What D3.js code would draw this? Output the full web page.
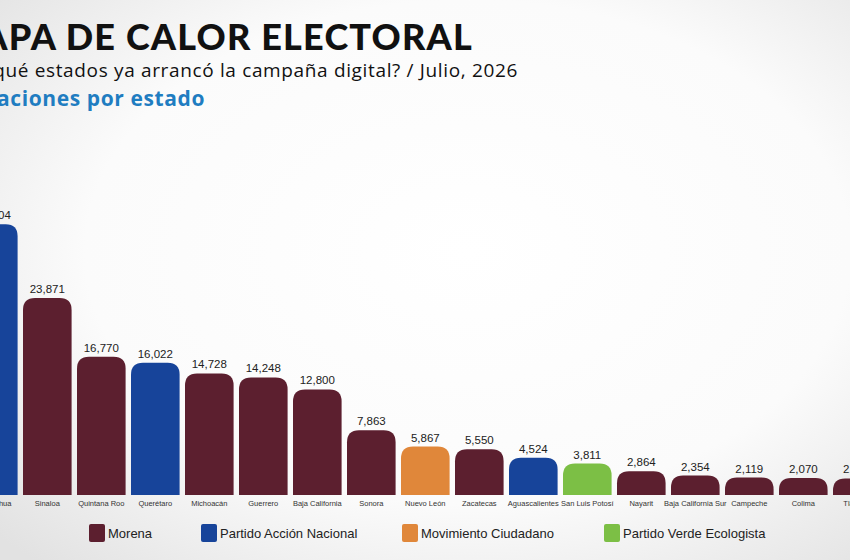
<!DOCTYPE html>
<html>
<head>
<meta charset="utf-8">
<script src="https://cdn.jsdelivr.net/npm/d3@7"></script>
<style>
  body { margin: 0; overflow: hidden; }
  svg { display: block; }
</style>
</head>
<body>
<div id="chart"></div>
<script>
// datos
var estados = ["Chihuahua", "Sinaloa", "Quintana Roo", "Querétaro", "Michoacán", "Guerrero",
  "Baja California", "Sonora", "Nuevo León", "Zacatecas", "Aguascalientes", "San Luis Potosí",
  "Nayarit", "Baja California Sur", "Campeche", "Colima", "Tlaxcala"];
var menciones = [32804, 23871, 16770, 16022, 14728, 14248, 12800, 7863, 5867, 5550, 4524, 3811,
  2864, 2354, 2119, 2070, 2010];
var partido = ["PAN", "Morena", "Morena", "PAN", "Morena", "Morena", "Morena", "Morena", "MC",
  "Morena", "PAN", "PVEM", "Morena", "Morena", "Morena", "Morena", "Morena"];
var partidos = ["Morena", "PAN", "MC", "PVEM"];
var nombresPartido = ["Morena", "Partido Acción Nacional", "Movimiento Ciudadano", "Partido Verde Ecologista"];
var colores = ["#5c1f2f", "#17449a", "#e0873a", "#7cbf45"];

var width = 850, height = 560;
var baseline = 495;

var svg = d3.select("#chart").append("svg")
    .attr("width", width)
    .attr("height", height);

var defs = svg.append("defs");
var grad = defs.append("radialGradient")
    .attr("id", "fondo")
    .attr("cx", "55%").attr("cy", "45%").attr("r", "75%");
grad.append("stop").attr("offset", "0%").attr("stop-color", "#ffffff");
grad.append("stop").attr("offset", "60%").attr("stop-color", "#fbfbfb");
grad.append("stop").attr("offset", "100%").attr("stop-color", "#e2e2e2");

svg.append("rect")
    .attr("width", width).attr("height", height)
    .attr("fill", "url(#fondo)");

// the chart is cropped on both sides, so the band range runs past the edges
var x = d3.scaleBand()
    .domain(estados)
    .range([-33.7, -33.7 + 54 * estados.length])
    .paddingInner(0.1)
    .paddingOuter(0.05);

var y = d3.scaleLinear()
    .domain([0, 24000])
    .range([baseline, baseline - 198]);

var color = d3.scaleOrdinal().domain(partidos).range(colores);

function barPath(x0, w, y0, y1) {
  var r = Math.min(12, y1 - y0, w / 2);
  return "M" + x0 + "," + y1 +
    "V" + (y0 + r) +
    "Q" + x0 + "," + y0 + " " + (x0 + r) + "," + y0 +
    "H" + (x0 + w - r) +
    "Q" + (x0 + w) + "," + y0 + " " + (x0 + w) + "," + (y0 + r) +
    "V" + y1 + "Z";
}

var data = estados.map(function(d, i) {
  return { estado: d, valor: menciones[i], partido: partido[i] };
});

svg.selectAll("path.bar")
  .data(data)
  .enter()
  .append("path")
  .attr("class", "bar")
  .attr("d", function(d) {
    return barPath(x(d.estado), x.bandwidth(), y(d.valor), baseline);
  })
  .attr("fill", function(d) { return color(d.partido); });

svg.selectAll("text.valor")
  .data(data)
  .enter()
  .append("text")
  .attr("class", "valor")
  .attr("x", function(d) { return x(d.estado) + x.bandwidth() / 2; })
  .attr("y", function(d) { return y(d.valor) - 5; })
  .attr("text-anchor", "middle")
  .style("font-family", "Liberation Sans, Arial, sans-serif")
  .style("font-size", "11.5px")
  .style("fill", "#222")
  .text(function(d) { return d3.format(",")(d.valor); });

svg.selectAll("text.estado")
  .data(data)
  .enter()
  .append("text")
  .attr("class", "estado")
  .attr("x", function(d) { return x(d.estado) + x.bandwidth() / 2; })
  .attr("y", baseline + 11)
  .attr("text-anchor", "middle")
  .style("font-family", "Liberation Sans, Arial, sans-serif")
  .style("font-size", "7.5px")
  .style("fill", "#333")
  .text(function(d) { return d.estado; });

// titles (cut on the left like the reference)
svg.append("text")
  .attr("x", 473).attr("y", 50)
  .attr("text-anchor", "end")
  .style("font-family", "Lato, sans-serif")
  .style("font-weight", 900)
  .style("font-size", "36px")
  .style("letter-spacing", "1.2px")
  .style("fill", "#111")
  .text("MAPA DE CALOR ELECTORAL");

svg.append("text")
  .attr("x", 518).attr("y", 77)
  .attr("text-anchor", "end")
  .style("font-family", "Open Sans, sans-serif")
  .style("font-size", "19px")
  .style("letter-spacing", "0.65px")
  .style("fill", "#111")
  .text("¿En qué estados ya arrancó la campaña digital? / Julio, 2026");

svg.append("text")
  .attr("x", 205).attr("y", 106)
  .attr("text-anchor", "end")
  .style("font-family", "Open Sans, sans-serif")
  .style("font-weight", 700)
  .style("font-size", "21px")
  .style("letter-spacing", "0.6px")
  .style("fill", "#1f7dc1")
  .text("Publicaciones por estado");

// legend
var legendX = [89, 201, 402, 604];
var legend = svg.selectAll("g.legend")
  .data(partidos)
  .enter()
  .append("g")
  .attr("class", "legend")
  .attr("transform", function(d, i) { return "translate(" + legendX[i] + ",524)"; });

legend.append("rect")
  .attr("width", 16).attr("height", 18)
  .attr("rx", 2)
  .attr("fill", function(d) { return color(d); });

legend.append("text")
  .attr("x", 19).attr("y", 14)
  .style("font-family", "Liberation Sans, Arial, sans-serif")
  .style("font-size", "13px")
  .style("fill", "#222")
  .text(function(d, i) { return nombresPartido[i]; });
</script>
</body>
</html>
